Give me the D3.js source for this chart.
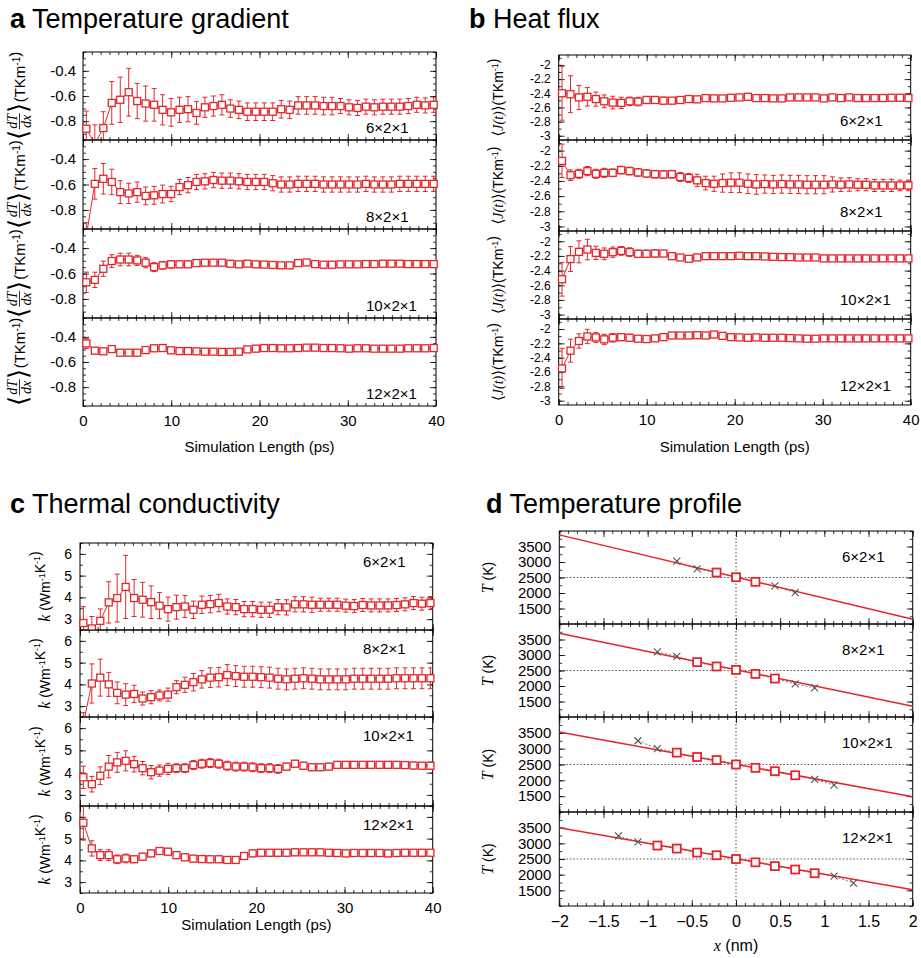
<!DOCTYPE html>
<html>
<head>
<meta charset="utf-8">
<script src="https://cdn.jsdelivr.net/npm/d3@7"></script>
<style>
body { margin: 0; background: #fff; }
svg { font-family: "Liberation Sans", Arial, Helvetica, sans-serif; }
</style>
</head>
<body>
<svg id="fig" width="921" height="958"></svg>
<script>
"use strict";

// ---- data ----
var sizeLabels = ["6×2×1", "8×2×1", "10×2×1", "12×2×1"];

var times = [0.38, 1.34, 2.30, 3.26, 4.22, 5.18, 6.14, 7.10, 8.06, 9.02, 9.98, 10.94, 11.90, 12.86,
    13.82, 14.78, 15.74, 16.70, 17.66, 18.62, 19.58, 20.54, 21.50, 22.46, 23.42, 24.38, 25.34, 26.30,
    27.26, 28.22, 29.18, 30.14, 31.10, 32.06, 33.02, 33.98, 34.94, 35.90, 36.86, 37.82, 38.78, 39.74];

var timeTicks = [0, 10, 20, 30, 40];
var gradTicks = [-0.8, -0.6, -0.4];
var fluxTicks = [-3, -2.8, -2.6, -2.4, -2.2, -2];
var condTicks = [3, 4, 5, 6];
var tempTicks = [1500, 2000, 2500, 3000, 3500];
var posTicks = [-2, -1.5, -1, -0.5, 0, 0.5, 1, 1.5, 2];

// a: temperature gradient
var grad6 = [-0.86, -0.98, -0.855, -0.655, -0.63, -0.57, -0.64, -0.66, -0.67, -0.71, -0.73, -0.71, -0.705, -0.735,
    -0.69, -0.68, -0.67, -0.70, -0.71, -0.725, -0.725, -0.725, -0.725, -0.705, -0.71, -0.675, -0.675, -0.675,
    -0.68, -0.68, -0.68, -0.69, -0.695, -0.685, -0.69, -0.685, -0.685, -0.685, -0.68, -0.67, -0.675, -0.67];
var grad6Err = [0.14, 0.15, 0.13, 0.17, 0.18, 0.19, 0.14, 0.14, 0.13, 0.12, 0.11, 0.10, 0.10, 0.09,
    0.08, 0.08, 0.08, 0.07, 0.07, 0.07, 0.07, 0.07, 0.07, 0.07, 0.07, 0.07, 0.07, 0.07,
    0.07, 0.07, 0.06, 0.06, 0.06, 0.06, 0.06, 0.06, 0.06, 0.06, 0.06, 0.06, 0.06, 0.06];
var grad8 = [-1.0, -0.595, -0.555, -0.58, -0.66, -0.67, -0.66, -0.69, -0.685, -0.675, -0.675, -0.62, -0.605, -0.58,
    -0.575, -0.565, -0.57, -0.57, -0.575, -0.58, -0.58, -0.58, -0.59, -0.6, -0.6, -0.595, -0.595, -0.595,
    -0.6, -0.6, -0.6, -0.6, -0.6, -0.595, -0.6, -0.6, -0.6, -0.595, -0.595, -0.595, -0.595, -0.595];
var grad8Err = [0.10, 0.12, 0.12, 0.10, 0.09, 0.08, 0.08, 0.07, 0.07, 0.07, 0.06, 0.06, 0.06, 0.06,
    0.06, 0.06, 0.06, 0.06, 0.06, 0.06, 0.06, 0.06, 0.06, 0.06, 0.06, 0.06, 0.06, 0.06,
    0.06, 0.06, 0.06, 0.06, 0.06, 0.06, 0.06, 0.06, 0.06, 0.06, 0.06, 0.06, 0.06, 0.06];
var grad10 = [-0.669, -0.65, -0.563, -0.502, -0.49, -0.49, -0.497, -0.515, -0.55, -0.536, -0.528, -0.528, -0.528, -0.518,
    -0.515, -0.515, -0.515, -0.523, -0.528, -0.523, -0.528, -0.53, -0.533, -0.536, -0.536, -0.518, -0.513, -0.526,
    -0.531, -0.531, -0.528, -0.528, -0.528, -0.526, -0.526, -0.523, -0.523, -0.523, -0.526, -0.526, -0.526, -0.526];
var grad10Err = [0.08, 0.06, 0.06, 0.05, 0.05, 0.05, 0.04, 0.04, 0.035, 0.03, 0.03, 0.025, 0.025, 0.02,
    0.02, 0.02, 0.02, 0.02, 0.02, 0.02, 0.02, 0.02, 0.02, 0.02, 0.02, 0.02, 0.02, 0.02,
    0.02, 0.02, 0.02, 0.02, 0.02, 0.02, 0.02, 0.02, 0.02, 0.02, 0.02, 0.02, 0.02, 0.02];
var grad12 = [-0.452, -0.51, -0.515, -0.497, -0.526, -0.526, -0.526, -0.505, -0.491, -0.489, -0.507, -0.513, -0.513, -0.515,
    -0.518, -0.518, -0.52, -0.52, -0.518, -0.5, -0.494, -0.489, -0.489, -0.491, -0.491, -0.489, -0.486, -0.486,
    -0.489, -0.489, -0.491, -0.494, -0.491, -0.491, -0.494, -0.494, -0.494, -0.494, -0.491, -0.491, -0.491, -0.489];
var grad12Err = [0.04, 0.02, 0.02, 0.02, 0.02, 0.02, 0.015, 0.015, 0.015, 0.015, 0.015, 0.015, 0.015, 0.015,
    0.015, 0.015, 0.015, 0.015, 0.015, 0.015, 0.015, 0.015, 0.015, 0.015, 0.015, 0.015, 0.015, 0.015,
    0.015, 0.015, 0.015, 0.015, 0.015, 0.015, 0.015, 0.015, 0.015, 0.015, 0.015, 0.015, 0.015, 0.015];

// b: heat flux
var flux6 = [-2.40, -2.414, -2.459, -2.45, -2.482, -2.514, -2.532, -2.536, -2.514, -2.518, -2.495, -2.495, -2.505, -2.505,
    -2.495, -2.482, -2.486, -2.468, -2.473, -2.473, -2.464, -2.459, -2.45, -2.468, -2.468, -2.473, -2.473, -2.459,
    -2.459, -2.459, -2.459, -2.473, -2.459, -2.468, -2.459, -2.468, -2.468, -2.468, -2.468, -2.464, -2.464, -2.468];
var flux6Err = [0.38, 0.26, 0.17, 0.13, 0.10, 0.09, 0.09, 0.08, 0.06, 0.06, 0.05, 0.05, 0.05, 0.04,
    0.04, 0.04, 0.04, 0.03, 0.03, 0.03, 0.03, 0.03, 0.03, 0.03, 0.03, 0.03, 0.03, 0.03,
    0.03, 0.03, 0.03, 0.03, 0.03, 0.03, 0.03, 0.03, 0.03, 0.03, 0.03, 0.03, 0.03, 0.03];
var flux8 = [-2.135, -2.324, -2.306, -2.27, -2.306, -2.293, -2.293, -2.257, -2.27, -2.288, -2.302, -2.311, -2.315, -2.311,
    -2.347, -2.36, -2.392, -2.428, -2.437, -2.428, -2.423, -2.423, -2.437, -2.446, -2.441, -2.446, -2.441, -2.446,
    -2.446, -2.45, -2.45, -2.45, -2.446, -2.45, -2.446, -2.45, -2.45, -2.459, -2.459, -2.459, -2.459, -2.459];
var flux8Err = [0.22, 0.07, 0.06, 0.06, 0.06, 0.06, 0.05, 0.05, 0.05, 0.05, 0.05, 0.05, 0.05, 0.05,
    0.06, 0.06, 0.08, 0.09, 0.10, 0.12, 0.13, 0.13, 0.13, 0.13, 0.12, 0.12, 0.12, 0.12,
    0.12, 0.12, 0.12, 0.12, 0.10, 0.09, 0.09, 0.08, 0.08, 0.08, 0.08, 0.08, 0.07, 0.07];
var flux10 = [-2.518, -2.243, -2.144, -2.113, -2.158, -2.171, -2.149, -2.131, -2.149, -2.171, -2.171, -2.167, -2.167, -2.203,
    -2.221, -2.239, -2.221, -2.203, -2.203, -2.203, -2.203, -2.198, -2.203, -2.203, -2.207, -2.212, -2.216, -2.216,
    -2.221, -2.221, -2.221, -2.234, -2.234, -2.234, -2.234, -2.234, -2.234, -2.234, -2.234, -2.234, -2.234, -2.234];
var flux10Err = [0.23, 0.17, 0.15, 0.14, 0.09, 0.08, 0.07, 0.06, 0.06, 0.05, 0.05, 0.05, 0.04, 0.04,
    0.04, 0.04, 0.03, 0.03, 0.03, 0.03, 0.03, 0.03, 0.03, 0.03, 0.03, 0.03, 0.03, 0.03,
    0.03, 0.03, 0.03, 0.03, 0.03, 0.03, 0.03, 0.03, 0.03, 0.03, 0.03, 0.03, 0.03, 0.03];
var flux12 = [-2.55, -2.302, -2.167, -2.104, -2.117, -2.144, -2.122, -2.113, -2.122, -2.135, -2.14, -2.131, -2.113, -2.09,
    -2.09, -2.09, -2.086, -2.09, -2.077, -2.095, -2.113, -2.117, -2.122, -2.117, -2.122, -2.122, -2.122, -2.126,
    -2.131, -2.135, -2.135, -2.131, -2.131, -2.131, -2.131, -2.131, -2.131, -2.131, -2.131, -2.131, -2.131, -2.131];
var flux12Err = [0.28, 0.16, 0.10, 0.10, 0.07, 0.07, 0.06, 0.05, 0.05, 0.04, 0.04, 0.04, 0.03, 0.03,
    0.03, 0.03, 0.03, 0.03, 0.03, 0.03, 0.03, 0.03, 0.03, 0.03, 0.03, 0.03, 0.03, 0.03,
    0.03, 0.03, 0.03, 0.03, 0.03, 0.03, 0.03, 0.03, 0.03, 0.03, 0.03, 0.03, 0.03, 0.03];

// c: thermal conductivity
var cond6 = [2.82, 2.57, 2.92, 3.77, 3.97, 4.48, 3.97, 3.89, 3.78, 3.62, 3.46, 3.55, 3.58, 3.43,
    3.66, 3.69, 3.74, 3.58, 3.55, 3.46, 3.46, 3.43, 3.43, 3.55, 3.54, 3.68, 3.68, 3.66,
    3.66, 3.66, 3.66, 3.62, 3.60, 3.65, 3.63, 3.63, 3.63, 3.65, 3.68, 3.74, 3.71, 3.74];
var cond6Err = [0.75, 0.55, 0.55, 0.95, 1.10, 1.45, 0.85, 0.80, 0.75, 0.60, 0.55, 0.55, 0.50, 0.40,
    0.40, 0.40, 0.40, 0.35, 0.35, 0.35, 0.35, 0.35, 0.35, 0.35, 0.35, 0.35, 0.35, 0.35,
    0.30, 0.30, 0.30, 0.30, 0.30, 0.30, 0.30, 0.30, 0.30, 0.30, 0.30, 0.30, 0.30, 0.30];
var cond8 = [2.2, 4.04, 4.31, 4.0, 3.61, 3.53, 3.56, 3.35, 3.41, 3.49, 3.53, 3.87, 3.98, 4.10,
    4.23, 4.31, 4.33, 4.43, 4.38, 4.35, 4.35, 4.33, 4.31, 4.26, 4.23, 4.26, 4.28, 4.26,
    4.23, 4.23, 4.23, 4.23, 4.26, 4.26, 4.26, 4.26, 4.26, 4.28, 4.28, 4.28, 4.28, 4.28];
var cond8Err = [0.50, 0.90, 0.85, 0.55, 0.50, 0.50, 0.40, 0.30, 0.30, 0.25, 0.30, 0.30, 0.35, 0.40,
    0.40, 0.45, 0.45, 0.48, 0.48, 0.48, 0.48, 0.48, 0.48, 0.48, 0.48, 0.48, 0.48, 0.48,
    0.48, 0.48, 0.48, 0.48, 0.48, 0.48, 0.48, 0.48, 0.48, 0.48, 0.48, 0.48, 0.48, 0.48];
var cond10 = [3.79, 3.48, 3.86, 4.27, 4.46, 4.53, 4.38, 4.2, 4.02, 4.09, 4.17, 4.2, 4.2, 4.34,
    4.4, 4.43, 4.4, 4.31, 4.27, 4.27, 4.24, 4.2, 4.2, 4.17, 4.27, 4.4, 4.31, 4.24,
    4.24, 4.27, 4.35, 4.35, 4.35, 4.35, 4.35, 4.35, 4.35, 4.35, 4.34, 4.32, 4.31, 4.31];
var cond10Err = [0.50, 0.35, 0.40, 0.50, 0.45, 0.45, 0.35, 0.30, 0.30, 0.25, 0.25, 0.20, 0.20, 0.20,
    0.20, 0.20, 0.20, 0.20, 0.20, 0.20, 0.20, 0.20, 0.20, 0.20, 0.15, 0.15, 0.15, 0.15,
    0.15, 0.15, 0.15, 0.15, 0.15, 0.15, 0.15, 0.15, 0.15, 0.15, 0.15, 0.15, 0.15, 0.15];
var cond12 = [5.73, 4.55, 4.24, 4.24, 4.05, 4.09, 4.05, 4.17, 4.32, 4.43, 4.4, 4.24, 4.14, 4.08,
    4.06, 4.05, 4.05, 4.02, 4.02, 4.2, 4.32, 4.35, 4.35, 4.35, 4.35, 4.37, 4.37, 4.37,
    4.37, 4.35, 4.34, 4.32, 4.34, 4.34, 4.34, 4.34, 4.32, 4.34, 4.35, 4.35, 4.35, 4.35];
var cond12Err = [0.80, 0.35, 0.25, 0.25, 0.20, 0.20, 0.15, 0.15, 0.15, 0.15, 0.15, 0.15, 0.15, 0.15,
    0.15, 0.15, 0.15, 0.15, 0.15, 0.15, 0.15, 0.15, 0.15, 0.15, 0.15, 0.15, 0.15, 0.15,
    0.15, 0.15, 0.15, 0.15, 0.15, 0.15, 0.15, 0.15, 0.15, 0.15, 0.15, 0.15, 0.15, 0.15];

// d: temperature profile (outer two points on each side are crosses)
var prof6X = [-0.67, -0.44, -0.22, 0, 0.22, 0.44, 0.67];
var prof6T = [3030, 2780, 2660, 2510, 2360, 2230, 2010];
var prof8X = [-0.89, -0.67, -0.44, -0.22, 0, 0.22, 0.44, 0.67, 0.89];
var prof8T = [3100, 2955, 2770, 2630, 2520, 2390, 2240, 2070, 1940];
var prof10X = [-1.11, -0.89, -0.67, -0.44, -0.22, 0, 0.22, 0.44, 0.67, 0.89, 1.11];
var prof10T = [3250, 3000, 2875, 2737, 2640, 2500, 2394, 2288, 2160, 2032, 1850];
var prof12X = [-1.33, -1.11, -0.89, -0.67, -0.44, -0.22, 0, 0.22, 0.44, 0.67, 0.89, 1.11, 1.33];
var prof12T = [3237, 3045, 2930, 2833, 2704, 2620, 2500, 2393, 2273, 2165, 2046, 1950, 1733];
var fitSlope = [-680, -590, -512, -495];
var fitIntercept = [2515, 2525, 2505, 2510];

// ---- drawing ----
var RED = "#e3262b";
var svg = d3.select("#fig");

var plain = function (d) { return String(d); };
var minusFmt = function (d) { return (d < 0 ? "\u2212" : "") + Math.abs(d); };

function styleAxis(sel, fontSize) {
    sel.select(".domain").remove();
    sel.attr("font-family", null).attr("font-size", fontSize);
    sel.selectAll("line").attr("stroke", "#000").attr("stroke-width", 0.8);
    sel.selectAll("text").attr("fill", "#000");
}

// box with inward ticks on all four sides
function frame(g, x, y, top, bottom, o, last) {
    var x0 = x.range()[0], x1 = x.range()[1];
    g.append("g").attr("transform", "translate(0," + bottom + ")")
        .call(d3.axisBottom(x).tickValues(o.xMinor).tickSize(-3).tickFormat(""))
        .call(styleAxis, o.xFont);
    g.append("g").attr("transform", "translate(0," + bottom + ")")
        .call(d3.axisBottom(x).tickValues(o.xTicks).tickSizeInner(-6).tickSizeOuter(0)
            .tickPadding(o.xPad).tickFormat(last ? o.xFormat : ""))
        .call(styleAxis, o.xFont);
    g.append("g").attr("transform", "translate(0," + top + ")")
        .call(d3.axisTop(x).tickValues(o.xMinor).tickSize(-3).tickFormat(""))
        .call(styleAxis, o.xFont);
    g.append("g").attr("transform", "translate(0," + top + ")")
        .call(d3.axisTop(x).tickValues(o.xTicks).tickSize(-6).tickFormat(""))
        .call(styleAxis, o.xFont);
    g.append("g").attr("transform", "translate(" + x0 + ",0)")
        .call(d3.axisLeft(y).tickValues(o.yMinor).tickSize(-3).tickFormat(""))
        .call(styleAxis, o.yFont);
    g.append("g").attr("transform", "translate(" + x0 + ",0)")
        .call(d3.axisLeft(y).tickValues(o.yTicks).tickSizeInner(-6).tickSizeOuter(0)
            .tickPadding(o.yPad).tickFormat(plain))
        .call(styleAxis, o.yFont);
    g.append("g").attr("transform", "translate(" + x1 + ",0)")
        .call(d3.axisRight(y).tickValues(o.yMinor).tickSize(-3).tickFormat(""))
        .call(styleAxis, o.yFont);
    g.append("g").attr("transform", "translate(" + x1 + ",0)")
        .call(d3.axisRight(y).tickValues(o.yTicks).tickSize(-6).tickFormat(""))
        .call(styleAxis, o.yFont);
    g.append("rect").attr("x", x0).attr("y", top).attr("width", x1 - x0).attr("height", bottom - top)
        .attr("fill", "none").attr("stroke", "#000").attr("stroke-width", 1);
}

function rotLabel(cx, cy, build) {
    var outer = svg.append("g").attr("transform", "translate(" + cx + "," + cy + ") rotate(-90)");
    var inner = outer.append("g");
    build(inner);
    var bb = inner.node().getBBox();
    inner.attr("transform", "translate(" + (-bb.x - bb.width / 2) + "," + (-bb.y - bb.height / 2) + ")");
}

function sup(t, s, size) {
    t.append("tspan").attr("dy", -5).attr("font-size", size).text(s);
    t.append("tspan").attr("dy", 5).text("");
}

function clipFor(g, id, x0, x1, top, bottom) {
    g.append("clipPath").attr("id", id).append("rect")
        .attr("x", x0 - 5).attr("y", top).attr("width", x1 - x0 + 10).attr("height", bottom - top);
    return g.append("g").attr("clip-path", "url(#" + id + ")");
}

function drawTimePanel(p) {
    var x = d3.scaleLinear().domain([0, 40]).range([p.x0, p.x1]);
    p.series.forEach(function (vals, i) {
        var errs = p.errors[i],
            top = p.borders[i],
            bottom = p.borders[i + 1],
            last = i === p.series.length - 1,
            y = d3.scaleLinear().domain(p.yDomain).range([bottom, top]),
            g = svg.append("g");

        frame(g, x, y, top, bottom, {
            xTicks: timeTicks, xMinor: d3.range(0, 41, 1), xFont: 15, xPad: 9, xFormat: plain,
            yTicks: p.yTicks, yMinor: p.yMinor, yFont: p.yFont, yPad: p.yPad
        }, last);

        var pts = times.map(function (t, k) { return { t: t, v: vals[k], e: errs[k] }; });
        var plot = clipFor(g, p.id + "clip" + i, p.x0, p.x1, top, bottom);

        plot.append("path").datum(pts)
            .attr("fill", "none").attr("stroke", RED).attr("stroke-width", 1)
            .attr("d", d3.line().x(function (d) { return x(d.t); }).y(function (d) { return y(d.v); }));

        plot.selectAll(".err").data(pts).enter().append("path")
            .attr("class", "err")
            .attr("fill", "none").attr("stroke", RED).attr("stroke-width", 1)
            .attr("d", function (d) {
                var cx = x(d.t), ya = y(d.v + d.e), yb = y(d.v - d.e);
                return "M" + (cx - 2.5) + "," + ya + "H" + (cx + 2.5) +
                    "M" + cx + "," + ya + "V" + yb +
                    "M" + (cx - 2.5) + "," + yb + "H" + (cx + 2.5);
            });

        plot.selectAll(".sq").data(pts).enter().append("rect")
            .attr("class", "sq")
            .attr("x", function (d) { return x(d.t) - 3.5; })
            .attr("y", function (d) { return y(d.v) - 3.5; })
            .attr("width", 7).attr("height", 7)
            .attr("fill", "#fff").attr("stroke", RED).attr("stroke-width", 1.3);

        g.append("text")
            .attr("x", p.tagX)
            .attr("y", p.tagAtTop ? top + p.tagDy : bottom - p.tagDy)
            .attr("font-size", 15).text(sizeLabels[i]);

        rotLabel(p.labelX, (top + bottom) / 2, p.yLabel);
    });

    svg.append("text").attr("x", (p.x0 + p.x1) / 2).attr("y", p.titleY)
        .attr("text-anchor", "middle").attr("font-size", 15).text("Simulation Length (ps)");
}

function gradLabel(g) {
    g.append("text").attr("x", 0).attr("y", 7).attr("font-size", 26)
        .attr("font-family", "DejaVu Sans, sans-serif").attr("font-weight", 200).text("\u27E8");
    g.append("text").attr("x", 19).attr("y", -3).attr("text-anchor", "middle").attr("font-size", 14)
        .attr("font-style", "italic").attr("font-family", "Liberation Serif, serif").text("dT");
    g.append("line").attr("x1", 11).attr("x2", 27).attr("y1", 0).attr("y2", 0)
        .attr("stroke", "#000").attr("stroke-width", 0.8);
    g.append("text").attr("x", 19).attr("y", 11).attr("text-anchor", "middle").attr("font-size", 14)
        .attr("font-style", "italic").attr("font-family", "Liberation Serif, serif").text("dx");
    g.append("text").attr("x", 27).attr("y", 7).attr("font-size", 26)
        .attr("font-family", "DejaVu Sans, sans-serif").attr("font-weight", 200).text("\u27E9");
    var t = g.append("text").attr("x", 38).attr("y", 5).attr("font-size", 15);
    t.append("tspan").text("(TKm");
    sup(t, "-1", 10);
    t.append("tspan").text(")");
}

function fluxLabel(g) {
    var t = g.append("text").attr("font-size", 14);
    t.append("tspan").attr("font-family", "DejaVu Sans, sans-serif").attr("font-size", 15).text("\u27E8");
    t.append("tspan").attr("font-style", "italic").attr("font-family", "Liberation Serif, serif").text("J(t)");
    t.append("tspan").attr("font-family", "DejaVu Sans, sans-serif").attr("font-size", 15).text("\u27E9");
    t.append("tspan").text("(TKm");
    sup(t, "-1", 9);
    t.append("tspan").text(")");
}

function condLabel(g) {
    var t = g.append("text").attr("font-size", 14);
    t.append("tspan").attr("font-style", "italic").attr("font-family", "Liberation Serif, serif")
        .attr("font-size", 16).text("k");
    t.append("tspan").text(" (Wm");
    sup(t, "-1", 9);
    t.append("tspan").text("K");
    sup(t, "-1", 9);
    t.append("tspan").text(")");
}

function tempLabel(g) {
    var t = g.append("text").attr("font-size", 14);
    t.append("tspan").attr("font-style", "italic").attr("font-family", "Liberation Serif, serif")
        .attr("font-size", 16).text("T");
    t.append("tspan").text(" (K)");
}

function drawProfilePanel(p) {
    var x = d3.scaleLinear().domain([-2, 2]).range([p.x0, p.x1]);
    p.xs.forEach(function (xs, i) {
        var ts = p.ts[i],
            top = p.borders[i],
            bottom = p.borders[i + 1],
            last = i === p.xs.length - 1,
            y = d3.scaleLinear().domain(p.yDomain).range([bottom, top]),
            g = svg.append("g");

        frame(g, x, y, top, bottom, {
            xTicks: posTicks, xMinor: d3.range(-20, 21, 1).map(function (v) { return v / 10; }),
            xFont: 16, xPad: 10, xFormat: minusFmt,
            yTicks: tempTicks, yMinor: d3.range(1000, 4001, 250), yFont: 15, yPad: 8
        }, last);

        var plot = clipFor(g, "dclip" + i, p.x0, p.x1, top, bottom);

        plot.append("line").attr("x1", p.x0).attr("x2", p.x1).attr("y1", y(2500)).attr("y2", y(2500))
            .attr("stroke", "#000").attr("stroke-width", 0.7).attr("stroke-dasharray", "1.5,2");
        plot.append("line").attr("x1", x(0)).attr("x2", x(0)).attr("y1", top).attr("y2", bottom)
            .attr("stroke", "#000").attr("stroke-width", 0.7).attr("stroke-dasharray", "1.5,2");

        var pts = xs.map(function (v, k) { return { x: v, t: ts[k], cross: k < 2 || k >= xs.length - 2 }; });

        plot.append("path").datum(pts)
            .attr("fill", "none").attr("stroke", "#777").attr("stroke-width", 1).attr("stroke-dasharray", "2,2")
            .attr("d", d3.line().x(function (d) { return x(d.x); }).y(function (d) { return y(d.t); }));

        plot.append("line")
            .attr("x1", x(-2)).attr("y1", y(fitIntercept[i] + fitSlope[i] * -2))
            .attr("x2", x(2)).attr("y2", y(fitIntercept[i] + fitSlope[i] * 2))
            .attr("stroke", RED).attr("stroke-width", 1.5);

        plot.selectAll(".cr").data(pts.filter(function (d) { return d.cross; })).enter().append("path")
            .attr("class", "cr")
            .attr("fill", "none").attr("stroke", "#555").attr("stroke-width", 1.1)
            .attr("d", function (d) {
                var cx = x(d.x), cy = y(d.t), r = 3.5;
                return "M" + (cx - r) + "," + (cy - r) + "L" + (cx + r) + "," + (cy + r) +
                    "M" + (cx - r) + "," + (cy + r) + "L" + (cx + r) + "," + (cy - r);
            });

        plot.selectAll(".sq").data(pts.filter(function (d) { return !d.cross; })).enter().append("rect")
            .attr("class", "sq")
            .attr("x", function (d) { return x(d.x) - 4; })
            .attr("y", function (d) { return y(d.t) - 4; })
            .attr("width", 8).attr("height", 8)
            .attr("fill", "#fff").attr("stroke", RED).attr("stroke-width", 1.8);

        g.append("text").attr("x", 842).attr("y", top + 31).attr("font-size", 15).text(sizeLabels[i]);

        rotLabel(487, (top + bottom) / 2, tempLabel);
    });

    var xt = svg.append("text").attr("x", (p.x0 + p.x1) / 2).attr("y", 951)
        .attr("text-anchor", "middle").attr("font-size", 16);
    xt.append("tspan").attr("font-style", "italic").attr("font-family", "Liberation Serif, serif").text("x");
    xt.append("tspan").text(" (nm)");
}

function panelTitle(x, y, letter, text) {
    var t = svg.append("text").attr("x", x).attr("y", y).attr("font-size", 27);
    t.append("tspan").attr("font-weight", "bold").text(letter);
    t.append("tspan").text(" " + text);
}

panelTitle(10, 28, "a", "Temperature gradient");
panelTitle(469, 28, "b", "Heat flux");
panelTitle(10, 513, "c", "Thermal conductivity");
panelTitle(486, 513, "d", "Temperature profile");

drawTimePanel({
    id: "a", x0: 83, x1: 436, borders: [52, 140, 229, 318, 406], yDomain: [-0.95, -0.25],
    yTicks: gradTicks, yMinor: d3.range(-0.95, -0.249, 0.05), yFont: 15, yPad: 7,
    series: [grad6, grad8, grad10, grad12], errors: [grad6Err, grad8Err, grad10Err, grad12Err],
    tagX: 366, tagAtTop: false, tagDy: 7, labelX: 18, yLabel: gradLabel, titleY: 452
});

drawTimePanel({
    id: "b", x0: 558.7, x1: 910.7, borders: [55, 140, 231, 319, 405], yDomain: [-3.06, -1.86],
    yTicks: fluxTicks, yMinor: d3.range(-3.0, -1.89, 0.1), yFont: 12, yPad: 8,
    series: [flux6, flux8, flux10, flux12], errors: [flux6Err, flux8Err, flux10Err, flux12Err],
    tagX: 840, tagAtTop: false, tagDy: 14, labelX: 496, yLabel: fluxLabel, titleY: 452
});

drawTimePanel({
    id: "c", x0: 80, x1: 432.7, borders: [543, 630, 717, 806, 893], yDomain: [2.5, 6.5],
    yTicks: condTicks, yMinor: d3.range(2.5, 6.51, 0.5), yFont: 14, yPad: 8,
    series: [cond6, cond8, cond10, cond12], errors: [cond6Err, cond8Err, cond10Err, cond12Err],
    tagX: 363, tagAtTop: true, tagDy: 24, labelX: 40, yLabel: condLabel, titleY: 930
});

drawProfilePanel({
    x0: 559.3, x1: 912.7, borders: [531, 624, 717, 812, 906], yDomain: [1000, 4000],
    xs: [prof6X, prof8X, prof10X, prof12X], ts: [prof6T, prof8T, prof10T, prof12T]
});
</script>
</body>
</html>
